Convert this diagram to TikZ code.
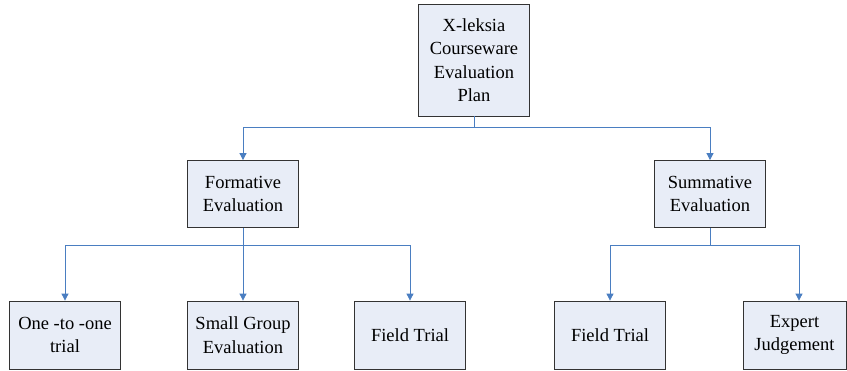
\documentclass[tikz,border=0pt]{standalone}
\usepackage{fontspec}
\setmainfont{Liberation Serif}
\usetikzlibrary{arrows.meta}
\definecolor{boxfill}{RGB}{232,237,247}
\definecolor{linkblue}{RGB}{74,126,193}
\begin{document}
\begin{tikzpicture}[x=1pt,y=-1pt]
        \tikzset{plan/.style={draw=black!80, fill=boxfill, thick, align=center, inner sep=0pt,
                 minimum width=111pt, minimum height=67pt,
                 font=\fontsize{18.5}{23.5}\selectfont},
                 link/.style={draw=linkblue, thick, -{Triangle[length=7pt,width=7pt]}}}
        \useasboundingbox (0,0) rectangle (847,370);
        \node [plan, minimum height=112pt] (top) at (474,60) {X-leksia\\Courseware\\Evaluation\\Plan};
        \node [plan] (form)   at (243,194) {Formative\\Evaluation};
        \node [plan] (summ)   at (710,194) {Summative\\Evaluation};
        \node [plan, minimum height=68pt] (one)    at (65,335)  {One -to -one\\trial};
        \node [plan, minimum height=68pt] (small)  at (243,335) {Small Group\\Evaluation};
        \node [plan, minimum height=68pt] (field)  at (410,335) {Field Trial};
        \node [plan, minimum height=68pt] (field2) at (610,335) {Field Trial};
        \node [plan, minimum height=68pt, minimum width=103pt] (expert) at (794.5,335) {Expert\\Judgement};
        \draw [link] (top.south)  -- ++(0,11) -| (form.north);
        \draw [link] (top.south)  -- ++(0,11) -| (summ.north);
        \draw [link] (form.south) -- ++(0,17) -| (one.north);
        \draw [link] (form.south) -- (small.north);
        \draw [link] (form.south) -- ++(0,17) -| (field.north);
        \draw [link] (summ.south) -- ++(0,17) -| (field2.north);
        \draw [link] (summ.south) -- ++(0,17) -| ([xshift=4.5pt]expert.north);
    \end{tikzpicture}
\end{document}
